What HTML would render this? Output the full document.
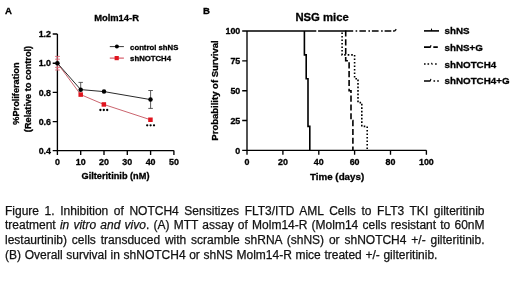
<!DOCTYPE html>
<html><head><meta charset="utf-8">
<style>
html,body{margin:0;padding:0;background:#fff;width:520px;height:282px;overflow:hidden;}
body{position:relative;font-family:"Liberation Sans",sans-serif;}
svg{position:absolute;left:0;top:0;will-change:transform;}
.cap{will-change:transform;}
svg text{font-family:"Liberation Sans",sans-serif;font-weight:bold;fill:#000;stroke:#000;stroke-width:0.3px;}
.cap{position:absolute;left:4.5px;width:479.5px;font-size:12px;line-height:14.6px;color:#111;white-space:nowrap;-webkit-text-stroke:0.25px #111;}
.j{text-align:justify;text-align-last:justify;white-space:normal;}
</style></head><body>
<svg width="520" height="282" viewBox="0 0 520 282">
  <!-- ===== Panel A ===== -->
  <text x="5.1" y="14.3" font-size="9.6">A</text>
  <text x="116.55" y="20.5" font-size="9.4" text-anchor="middle">Molm14-R</text>
  <!-- axes -->
  <g stroke="#000" stroke-width="1.35" fill="none">
    <path d="M57.4 34 V150.6 H173.9"/>
    <path d="M52.7 34 H57.4 M52.7 63.2 H57.4 M52.7 92.4 H57.4 M52.7 121.6 H57.4 M52.7 150.6 H57.4"/>
    <path d="M57.4 150.6 V155 M80.7 150.6 V155 M104 150.6 V155 M127.3 150.6 V155 M150.6 150.6 V155 M173.9 150.6 V155"/>
  </g>
  <g font-size="8.9" text-anchor="end">
    <text x="51" y="37.2">1.2</text>
    <text x="51" y="66.4">1.0</text>
    <text x="51" y="95.6">0.8</text>
    <text x="51" y="124.8">0.6</text>
    <text x="51" y="153.8">0.4</text>
  </g>
  <g font-size="8.9" text-anchor="middle">
    <text x="57.4" y="165.3">0</text>
    <text x="80.7" y="165.3">10</text>
    <text x="104" y="165.3">20</text>
    <text x="127.3" y="165.3">30</text>
    <text x="150.6" y="165.3">40</text>
    <text x="173.9" y="165.3">50</text>
  </g>
  <text x="115.5" y="179" font-size="9.2" text-anchor="middle">Gilteritinib (nM)</text>
  <text transform="translate(19 93.6) rotate(-90)" font-size="9.2" text-anchor="middle">%Proliferation</text>
  <text transform="translate(30.8 89) rotate(-90)" font-size="9.2" text-anchor="middle">(Relative to control)</text>
  <!-- data lines -->
  <g stroke="#e06070" stroke-width="0.8" fill="none">
    <path d="M57.5 56.4 V70 M55 56.4 H60 M55 59.2 H60 M55 67.4 H60 M55 70 H60"/>
  </g>
  <polyline points="57.4,63.2 80.7,94.6 104,104.5 150.6,119.8" fill="none" stroke="#b8303e" stroke-width="0.75"/>
  <polyline points="57.4,63.2 80.7,89.6 104,91.6 150.6,99.6" fill="none" stroke="#2a2a2a" stroke-width="1"/>
  <!-- error bars -->
  <g stroke="#4a4a4a" stroke-width="0.9" fill="none">
    <path d="M80.7 82.4 V89.6 M78.5 82.4 H82.9"/>
    <path d="M150.6 90.5 V108.4 M148.3 90.5 H152.9 M148.3 108.4 H152.9"/>
  </g>
  <!-- markers -->
  <g fill="#e0141e">
    <rect x="78.45" y="92.35" width="4.5" height="4.5"/>
    <rect x="101.6" y="102.2" width="4.5" height="4.5"/>
    <rect x="148.2" y="117.5" width="4.5" height="4.5"/>
  </g>
  <g fill="#000">
    <circle cx="57.4" cy="63.2" r="2.3"/>
    <circle cx="80.7" cy="89.7" r="2.25"/>
    <circle cx="104" cy="91.6" r="2.25"/>
    <circle cx="150.5" cy="99.6" r="2.25"/>
  </g>
  <!-- stars -->
  <g fill="#000">
    <circle cx="100.4" cy="110" r="1.15"/><circle cx="103.8" cy="110" r="1.15"/><circle cx="107.2" cy="110" r="1.15"/>
    <circle cx="147.2" cy="125.3" r="1.15"/><circle cx="150.6" cy="125.3" r="1.15"/><circle cx="154" cy="125.3" r="1.15"/>
  </g>
  <!-- legend A -->
  <path d="M109.8 46.6 H123.9" stroke="#3a3a3a" stroke-width="1"/>
  <circle cx="116.9" cy="46.6" r="2" fill="#000"/>
  <path d="M109.8 58.1 H123.9" stroke="#c8283a" stroke-width="0.9"/>
  <rect x="114.6" y="56" width="4.2" height="4.2" fill="#e0141e"/>
  <text x="130.1" y="49.9" font-size="7.75">control shNS</text>
  <text x="130.1" y="61.1" font-size="7.75">shNOTCH4</text>

  <!-- ===== Panel B ===== -->
  <text x="203" y="14.2" font-size="9.6">B</text>
  <text x="322.1" y="20.6" font-size="11.3" text-anchor="middle">NSG mice</text>
  <g stroke="#000" stroke-width="1.35" fill="none">
    <path d="M247 31 V150.3 H426.4"/>
    <path d="M242.2 31 H247 M242.2 60.8 H247 M242.2 90.7 H247 M242.2 120.5 H247 M242.2 150.3 H247"/>
    <path d="M247 150.3 V154.8 M282.9 150.3 V154.8 M318.8 150.3 V154.8 M354.6 150.3 V154.8 M390.5 150.3 V154.8 M426.4 150.3 V154.8"/>
  </g>
  <g font-size="8.9" text-anchor="end">
    <text x="240.3" y="34.2">100</text>
    <text x="240.3" y="64">75</text>
    <text x="240.3" y="93.9">50</text>
    <text x="240.3" y="123.7">25</text>
    <text x="240.3" y="153.5">0</text>
  </g>
  <g font-size="8.9" text-anchor="middle">
    <text x="247" y="165.3">0</text>
    <text x="282.9" y="165.3">20</text>
    <text x="318.8" y="165.3">40</text>
    <text x="354.6" y="165.3">60</text>
    <text x="390.5" y="165.3">80</text>
    <text x="426.4" y="165.3">100</text>
  </g>
  <text x="337.1" y="180" font-size="9.8" text-anchor="middle">Time (days)</text>
  <text transform="translate(218.4 90.5) rotate(-90)" font-size="9.5" text-anchor="middle">Probability of Survival</text>
  <!-- curves -->
  <g fill="none" stroke="#000" stroke-width="1.6">
    <!-- common 100% line -->
    <path d="M247 31 H316.3 M318.1 31 H353.2"/>
    <!-- shNOTCH4+G dash-dot tail -->
    <path d="M355.6 31 H357.2 M359.4 31 H365.9 M368.4 31 H370 M371.9 31 H378.6 M381.1 31 H382.7 M384.6 31 H391.3 M393.1 31 H394.7"/>
    <path d="M394.6 31 L396.3 29.3" stroke-width="1.3"/>
    <!-- shNOTCH4 dotted -->
    <path d="M342.1 32.5 V54.9 H354.6 V78.7 H358 V102.6 H361.8 V126.4 H367.2 V150.3" stroke-dasharray="1.6 1.9"/>
    <!-- shNS+G dashed -->
    <path d="M345.7 30.5 V60.8 H349.1 V90.7 H351 V120.5 H352.9 V150.3" stroke-dasharray="6.1 2.7"/>
    <!-- shNS solid -->
    <path d="M304.4 31 V54.9 H306.2 V78.7 H308 V126.4 H309.8 V150.3"/>
  </g>
  <!-- legend B -->
  <g fill="none" stroke="#000" stroke-width="1.6">
    <path d="M424 30.9 H439"/>
    <path d="M431.5 31 V28.6" stroke-width="1.1"/>
    <path d="M424 47.1 H430.6 M433.3 47.1 H437.8"/>
    <path d="M430.4 47.3 L431 45.2" stroke-width="1.1"/>
    <path d="M424 64 H425.6 M427.5 64 H429.1 M435.1 64 H436.7"/>
    <path d="M431.4 62.9 L432.4 64.6" stroke-width="1.1"/>
    <path d="M424 81 H430.4 M433.5 81 H435.1 M437.2 81 H438.8"/>
    <path d="M430.2 81.2 L430.9 78.9" stroke-width="1.1"/>
  </g>
  <g font-size="9.8">
    <text x="444.5" y="34.2">shNS</text>
    <text x="444.5" y="50.5">shNS+G</text>
    <text x="444.5" y="67.6">shNOTCH4</text>
    <text x="444.5" y="84.2">shNOTCH4+G</text>
  </g>
</svg>
<div class="cap j" style="top:203.6px">Figure 1. Inhibition of NOTCH4 Sensitizes FLT3/ITD AML Cells to FLT3 TKI gilteritinib</div>
<div class="cap j" style="top:218.2px">treatment <i>in vitro and vivo</i>. (A) MTT assay of Molm14-R (Molm14 cells resistant to 60nM</div>
<div class="cap j" style="top:233.1px">lestaurtinib) cells transduced with scramble shRNA (shNS) or shNOTCH4 +/- gilteritinib.</div>
<div class="cap" style="top:248px;word-spacing:0.3px">(B) Overall survival in shNOTCH4 or shNS Molm14-R mice treated +/- gilteritinib.</div>
</body></html>
